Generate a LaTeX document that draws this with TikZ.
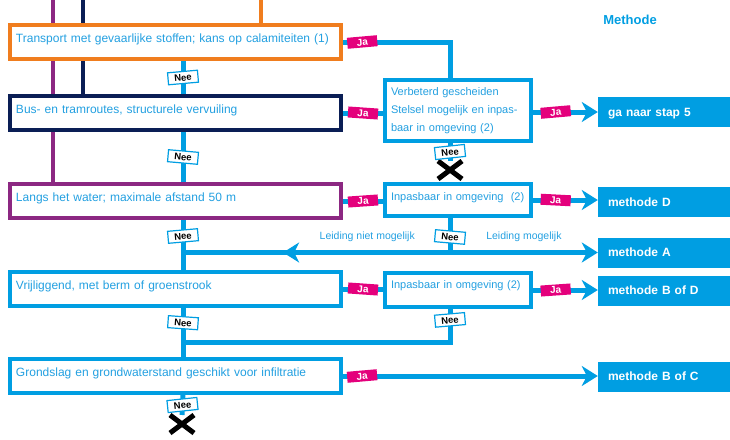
\documentclass[tikz,border=0pt]{standalone}
\usepackage{fontspec}
\setmainfont{Liberation Sans}
\usetikzlibrary{positioning,arrows.meta,shapes.misc,decorations.markings}

\definecolor{flowblue}{RGB}{0,158,226}
\definecolor{textblue}{RGB}{35,160,225}
\definecolor{jamagenta}{RGB}{228,0,124}
\definecolor{routeorange}{RGB}{240,125,30}
\definecolor{routenavy}{RGB}{10,30,85}
\definecolor{routepurple}{RGB}{140,40,130}

\tikzset{
    stepbox/.style={draw=flowblue, line width=4pt, fill=white,
        text=textblue, font=\fontsize{12}{14}\selectfont,
        align=left, text width=319pt, inner xsep=6pt, inner ysep=0pt,
        text height=17pt, text depth=17pt},
    checkbox/.style={draw=flowblue, line width=4pt, fill=white,
        text=textblue, font=\fontsize{11}{18}\selectfont,
        align=left, text width=134pt, inner xsep=6pt, inner ysep=0pt},
    methodbox/.style={fill=flowblue, text=white,
        font=\fontsize{12}{14}\selectfont\bfseries,
        align=left, text width=112pt, inner xsep=10pt, inner ysep=0pt,
        text height=8.6pt, text depth=0pt, minimum height=30pt},
    jalabel/.style={fill=jamagenta, text=white,
        font=\fontsize{10}{10}\selectfont\bfseries,
        minimum width=30pt, minimum height=11pt, inner sep=0pt,
        text height=7.2pt, text depth=0pt},
    neelabel/.style={draw=flowblue, line width=1.2pt, fill=white, text=black,
        font=\fontsize{9.5}{10}\selectfont\bfseries,
        minimum width=30pt, minimum height=12pt, inner sep=0pt,
        text height=7pt, text depth=0pt},
    leiding/.style={text=textblue, font=\fontsize{10.5}{12}\selectfont},
    flow/.style={draw=flowblue, line width=5pt},
    flowarrow/.style={flow, -{Stealth[length=16pt, width=20pt, inset=5pt]}},
    midarrow/.style={postaction={decorate}, decoration={markings,
        mark=at position 0.625 with {\arrow{Stealth[length=16pt, width=20pt, inset=5pt]}}}},
    route/.style={line width=4pt},
    stopcross/.style={cross out, draw=black, line width=5pt,
        minimum width=19pt, minimum height=13pt, inner sep=0pt}
}

\begin{document}
\begin{tikzpicture}[x=1pt, y=-1pt]

    \useasboundingbox (0,0) rectangle (730,439);

    % Vragen
    \node [stepbox, draw=routeorange] (transport) at (175.5,42)
        {Transport met gevaarlijke stoffen; kans op calamiteiten (1)};
    \node [stepbox, draw=routenavy, below=33pt of transport] (busroute)
        {Bus- en tramroutes, structurele vervuiling};
    \node [stepbox, draw=routepurple, below=50pt of busroute] (water)
        {Langs het water; maximale afstand 50 m};
    \node [stepbox, below=50pt of water] (vrijliggend)
        {Vrijliggend, met berm of groenstrook};
    \node [stepbox, below=49pt of vrijliggend] (grondslag)
        {Grondslag en grondwaterstand geschikt voor infiltratie};

    % Inpasbaarheid
    \node [checkbox, text height=15pt, text depth=46pt] (gescheiden) at (458,110.5)
        {Verbeterd gescheiden\\Stelsel mogelijk en inpas-\\baar in omgeving (2)};
    \node [checkbox, text height=16pt, text depth=16pt] (inpasbaar) at (458,200)
        {Inpasbaar in omgeving\ \ (2)};
    \node [checkbox, text height=15pt, text depth=19pt] (inpasbaarb) at (458,290)
        {Inpasbaar in omgeving (2)};

    % Methode
    \node [text=flowblue, font=\fontsize{13}{13}\selectfont\bfseries] (kop) at (630,20) {Methode};
    \node [methodbox] (stapvijf) at (664,112) {ga naar stap 5};
    \node [methodbox] (methoded) at (664,202) {methode D};
    \node [methodbox] (methodea) at (664,252.5) {methode A};
    \node [methodbox] (methodebd) at (664,290.5) {methode B of D};
    \node [methodbox] (methodebc) at (664,376.5) {methode B of C};

    % Stop
    \node [stopcross] (stopa) at (450,170) {};
    \node [stopcross] (stopb) at (182,424) {};

    \coordinate (hoofd) at (183,0);
    \coordinate (toppaars) at (53,0);
    \coordinate (topnavy) at (83,0);
    \coordinate (toporanje) at (261,0);
    \coordinate (splits) at ([xshift=-8pt]inpasbaar.south |- methodea.west);
    \coordinate (terug) at (183,342);

    % Routes van boven
    \draw[route, routepurple] (toppaars) -- (transport.north -| toppaars);
    \draw[route, routepurple] (transport.south -| toppaars) -- (busroute.north -| toppaars);
    \draw[route, routepurple] (busroute.south -| toppaars) -- (water.north -| toppaars);
    \draw[route, routenavy] (topnavy) -- (transport.north -| topnavy);
    \draw[route, routenavy] (transport.south -| topnavy) -- (busroute.north -| topnavy);
    \draw[route, routeorange] (toporanje) -- (transport.north -| toporanje);

    % Nee
    \draw[flow] (transport.south -| hoofd) -- (busroute.north -| hoofd)
        node[neelabel, midway, rotate=5]{Nee};
    \draw[flow] (busroute.south -| hoofd) -- (water.north -| hoofd)
        node[neelabel, midway, rotate=-5]{Nee};
    \draw[flow] (water.south -| hoofd) -- (vrijliggend.north -| hoofd)
        node[neelabel, pos=0.32, rotate=5]{Nee};
    \draw[flow] (vrijliggend.south -| hoofd) -- (grondslag.north -| hoofd)
        node[neelabel, pos=0.3, rotate=-4]{Nee};
    \draw[flow] (grondslag.south -| hoofd) -- (stopb.north)
        node[neelabel, midway, rotate=6]{Nee};
    \draw[flow] ([xshift=-8pt]gescheiden.south) -- (stopa.north)
        node[neelabel, midway, rotate=6]{Nee};
    \draw[flow] ([xshift=-8pt]inpasbaar.south) -- (splits)
        node[neelabel, pos=0.55, rotate=-5]{Nee};
    \draw[flow] ([xshift=-8pt]inpasbaarb.south) |- (terug)
        node[neelabel, pos=0.165, rotate=5]{Nee};

    % Leiding
    \draw[flowarrow] (splits) -- (methodea.west)
        node[leiding, midway, above=5pt]{Leiding mogelijk};
    \draw[flow, midarrow] (splits) -- (splits -| hoofd)
        node[leiding, pos=0.31, above=5pt]{Leiding niet mogelijk};

    % Ja
    \draw[flow] (transport.east) -| ([xshift=-8pt]gescheiden.north)
        node[jalabel, pos=0.09, rotate=5]{Ja};
    \draw[flow] (busroute.east) -- (busroute.east -| gescheiden.west)
        node[jalabel, midway, rotate=-4]{Ja};
    \draw[flow] (water.east) -- (water.east -| inpasbaar.west)
        node[jalabel, midway, rotate=4]{Ja};
    \draw[flow] (vrijliggend.east) -- (vrijliggend.east -| inpasbaarb.west)
        node[jalabel, midway, rotate=-4]{Ja};
    \draw[flowarrow] (grondslag.east) -- (grondslag.east -| methodebc.west)
        node[jalabel, pos=0.075, rotate=5]{Ja};
    \draw[flowarrow] (gescheiden.east |- stapvijf.west) -- (stapvijf.west)
        node[jalabel, pos=0.35, rotate=5]{Ja};
    \draw[flowarrow] (inpasbaar.east) -- (inpasbaar.east -| methoded.west)
        node[jalabel, pos=0.35, rotate=-3]{Ja};
    \draw[flowarrow] (inpasbaarb.east) -- (inpasbaarb.east -| methodebd.west)
        node[jalabel, pos=0.35, rotate=4]{Ja};

\end{tikzpicture}
\end{document}
